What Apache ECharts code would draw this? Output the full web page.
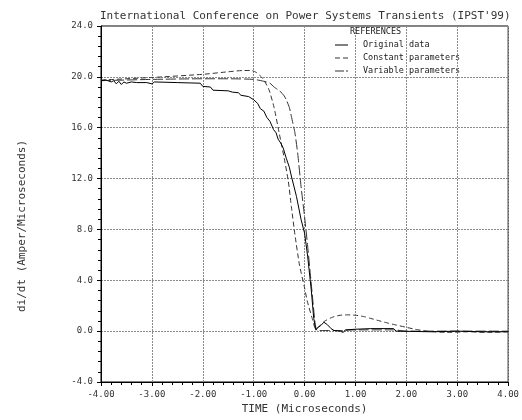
<!DOCTYPE html>
<html>
<head>
<meta charset="utf-8">
<script src="https://cdn.jsdelivr.net/npm/echarts@6/dist/echarts.min.js"></script>
<style>
html,body{margin:0;padding:0;background:#fff;}
#chart{width:522px;height:420px;}
</style>
</head>
<body>
<div id="chart"></div>
<script>
const titleText = "International Conference on Power Systems Transients (IPST'99)";
const xAxisName = "TIME (Microseconds)";
const yAxisName = "di/dt (Amper/Microseconds)";
const legendTitle = "REFERENCES";
const seriesNames = ["Original data", "Constant parameters", "Variable parameters"];

const origT = [-4.0,-3.9,-3.8,-3.75,-3.7,-3.65,-3.6,-3.55,-3.5,-3.4,-3.3,-3.1,-3.0,-2.95,-2.5,-2.05,-2.0,-1.85,-1.8,-1.5,-1.42,-1.3,-1.25,-1.1,-1.0,-0.92,-0.87,-0.8,-0.74,-0.68,-0.61,-0.56,-0.52,-0.47,-0.42,-0.36,-0.3,-0.26,-0.16,-0.07,0.0,0.06,0.13,0.18,0.22,0.27,0.32,0.38,0.45,0.52,0.58,0.7,0.76,0.8,1.0,1.3,1.75,1.8,2.5,3.0,3.5,4.0];
const origV = [19.7,19.75,19.6,19.7,19.45,19.65,19.4,19.6,19.5,19.6,19.55,19.55,19.45,19.6,19.55,19.5,19.25,19.2,18.95,18.9,18.8,18.75,18.55,18.45,18.2,17.9,17.5,17.3,16.8,16.5,15.85,15.6,15.1,14.8,14.4,13.6,12.9,12.2,10.6,8.8,7.7,5.9,3.3,1.0,0.1,0.3,0.45,0.7,0.5,0.2,0.05,0.0,-0.1,0.1,0.15,0.2,0.2,0.0,-0.05,0.0,-0.05,-0.05];

const constT = [-4.0,-3.0,-2.0,-1.5,-1.2,-1.05,-0.95,-0.85,-0.8,-0.7,-0.6,-0.5,-0.4,-0.32,-0.26,-0.19,-0.1,0.0,0.05,0.15,0.22,0.3,0.4,0.55,0.7,0.85,1.0,1.16,1.3,1.48,1.65,1.81,2.0,2.17,2.4,2.8,3.2,3.6,4.0];
const constV = [19.75,19.95,20.2,20.4,20.5,20.5,20.35,20.0,19.75,19.0,17.6,15.6,13.6,11.8,9.8,7.6,5.2,3.4,2.4,1.0,0.15,0.45,0.8,1.1,1.25,1.28,1.25,1.15,1.0,0.8,0.62,0.47,0.3,0.15,0.0,-0.1,-0.05,-0.1,-0.05];

const varT = [-4.0,-3.0,-2.0,-1.5,-1.0,-0.8,-0.68,-0.6,-0.49,-0.4,-0.36,-0.3,-0.26,-0.19,-0.13,-0.07,0.0,0.06,0.11,0.16,0.21,0.25,0.4,0.7,1.0,1.75,2.0,3.0,4.0];
const varV = [19.7,19.8,19.85,19.85,19.8,19.65,19.5,19.2,18.9,18.5,18.2,17.6,16.9,15.6,13.8,11.4,9.0,6.7,4.6,2.5,0.5,0.05,0.05,0.05,0.1,0.1,0.0,0.0,0.0];

const xMin = -4, xMax = 4, xStep = 1;
const yMin = -4, yMax = 24, yStep = 4;

function pairs(t, v){ return t.map((x,i)=>[x, v[i]]); }

const mono = "DejaVu Sans Mono";
const gridLine = {show:true, lineStyle:{color:'#8a8a8a', width:1, type:[2,1]}};

const chart = echarts.init(document.getElementById('chart'), null, {renderer:'canvas'});

const legendX = 335, legendY0 = 45, legendDY = 13;
const dashes = [null, [5,3], [10,3]];
const legendDashes = [null, [5,3], [9,2]];
const colors = ['#000', '#333', '#333'];
const legendGraphics = [
  {type:'text', left:350, top:27, style:{text:legendTitle, font:'8.5px "'+mono+'"', fill:'#222'}}
];
seriesNames.forEach((n,i)=>{
  const y = legendY0 + i*legendDY;
  legendGraphics.push({type:'line', shape:{x1:legendX, y1:y, x2:legendX+13, y2:y},
    style:{stroke:colors[i], lineWidth:1, lineDash:legendDashes[i]}});
  legendGraphics.push({type:'text', x:363, y:y, style:{text:n, font:'8.5px "'+mono+'"', fill:'#222', verticalAlign:'middle'}});
});

chart.setOption({
  animation:false,
  backgroundColor:'#fff',
  title:{text:titleText, left:100, top:11, padding:0,
    textStyle:{fontFamily:mono, fontSize:11, fontWeight:'normal', color:'#333'}},
  grid:{left:101, right:9, top:26, bottom:37, show:true, borderColor:'#000', borderWidth:1, backgroundColor:'transparent'},
  xAxis:{type:'value', min:xMin, max:xMax, interval:xStep,
    axisLine:{show:true, onZero:false, lineStyle:{color:'#000', width:1}},
    axisTick:{show:true, inside:false, length:4, lineStyle:{color:'#000'}},
    minorTick:{show:true, splitNumber:5, length:3, lineStyle:{color:'#000'}},
    splitLine:gridLine,
    axisLabel:{formatter:v=>v.toFixed(2), fontFamily:mono, fontSize:9, color:'#333', margin:8},
    name:xAxisName, nameLocation:'middle', nameGap:22,
    nameTextStyle:{fontFamily:mono, fontSize:11, color:'#333'}},
  yAxis:{type:'value', min:yMin, max:yMax, interval:yStep,
    axisLine:{show:true, onZero:false, lineStyle:{color:'#000', width:1}},
    axisTick:{show:true, inside:false, length:4, lineStyle:{color:'#000'}},
    minorTick:{show:true, splitNumber:5, length:3, lineStyle:{color:'#000'}},
    splitLine:gridLine,
    axisLabel:{formatter:v=>v.toFixed(1), fontFamily:mono, fontSize:9, color:'#333', margin:8}},
  graphic:[
    {type:'text', x:22, y:226, rotation:Math.PI/2,
      style:{text:yAxisName, font:'11px "'+mono+'"', fill:'#333', align:'center', verticalAlign:'middle'}},
    ...legendGraphics
  ],
  series:[
    {name:seriesNames[0], type:'line', data:pairs(origT, origV), showSymbol:false, smooth:false,
      lineStyle:{color:colors[0], width:1}, z:5},
    {name:seriesNames[1], type:'line', data:pairs(constT, constV), showSymbol:false, smooth:0.2,
      lineStyle:{color:colors[1], width:1, type:dashes[1]}, z:4},
    {name:seriesNames[2], type:'line', data:pairs(varT, varV), showSymbol:false, smooth:0.2,
      lineStyle:{color:colors[2], width:1, type:dashes[2]}, z:4}
  ]
});
</script>
</body>
</html>
